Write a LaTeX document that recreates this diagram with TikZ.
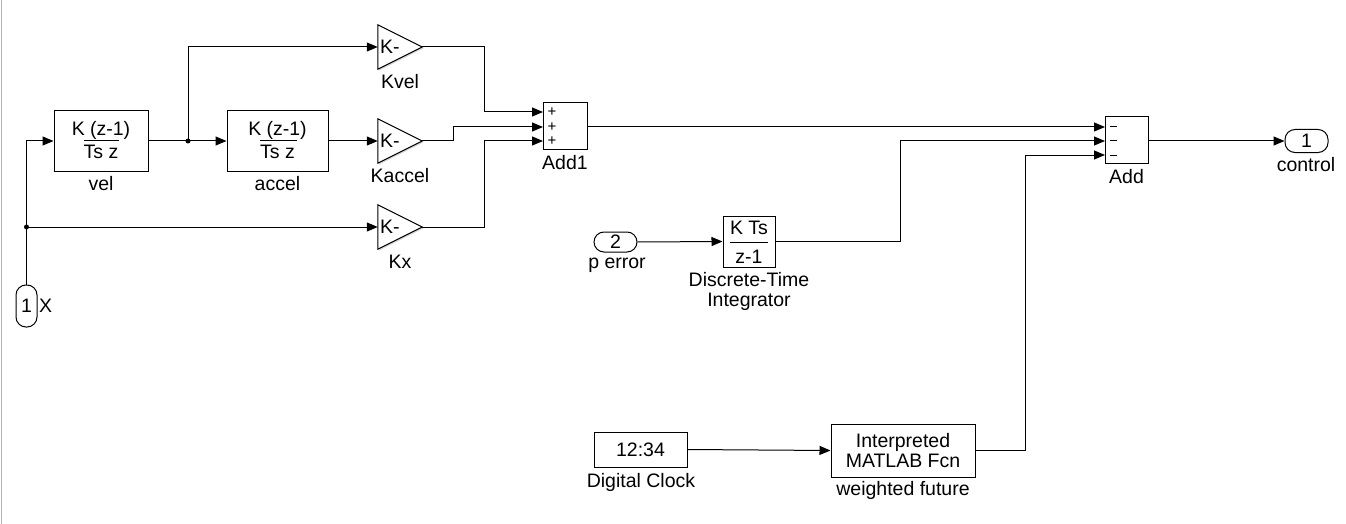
\documentclass[tikz,border=0pt]{standalone}
\usepackage{fontspec}
\setmainfont{Liberation Sans}
\usetikzlibrary{arrows.meta,shadows,calc}
\begin{document}
\begin{tikzpicture}[x=1pt,y=-1pt,
  every node/.style={font=\fontsize{19.5}{21}\selectfont, inner sep=0pt},
  blk/.style={draw, line width=1pt, fill=white, drop shadow={shadow xshift=1.3pt, shadow yshift=-1.3pt, opacity=0.35}},
  gainbox/.style={minimum width=44pt, minimum height=44pt},
  port/.style={draw, line width=1pt, fill=white, rounded corners=10pt},
  sig/.style={line width=1pt, -{Triangle[length=11pt,width=9pt]}},
  lbl/.style={},
  dot/.style={circle, fill=black, minimum size=5pt, inner sep=0pt}]
\useasboundingbox (0,0) rectangle (1346,524);
\draw[black!30, line width=1pt] (1,0) -- (1,524);

% blocks
\node[blk, minimum width=94pt, minimum height=60pt] (vel) at (101,141) {};
\node (veltop) at (101,130) {K (z-1)};
\node (velbot) at (101,152) {Ts z};
\draw[line width=1pt] (84,141) -- (119,141);
\node[lbl] (vellbl) at (101,184) {vel};

\node[blk, minimum width=101pt, minimum height=60pt] (accel) at (277.5,141) {};
\node (acctop) at (277.5,130) {K (z-1)};
\node (accbot) at (277.5,152) {Ts z};
\draw[line width=1pt] (260,141) -- (297,141);
\node[lbl] (acclbl) at (277.5,184) {accel};

% gains
\node[gainbox] (kvel) at (400,47) {};
\node[gainbox] (kacc) at (400,141) {};
\node[gainbox] (kx) at (400,227) {};
\foreach \g in {kvel,kacc,kx}{
  \draw[line width=1pt, fill=white, drop shadow={shadow xshift=1.3pt, shadow yshift=-1.3pt, opacity=0.35}] (\g.north west) -- (\g.east) -- (\g.south west) -- cycle;
  \node[anchor=west] at ([xshift=2pt]\g.west) {K-};
}
\node[lbl] (kvellbl) at (400,82) {Kvel};
\node[lbl] (kacclbl) at (400,176) {Kaccel};
\node[lbl] (kxlbl) at (400,262) {Kx};

% Add1
\node[blk, minimum width=44pt, minimum height=46pt] (add1) at (565,126) {};
\coordinate (a1i1) at (543,112);
\coordinate (a1i2) at (543,127);
\coordinate (a1i3) at (543,141);
\node[font=\fontsize{15}{15}\selectfont] at (552,112) {+};
\node[font=\fontsize{15}{15}\selectfont] at (552,127) {+};
\node[font=\fontsize{15}{15}\selectfont] at (552,141) {+};
\node[lbl] (add1lbl) at (565,163) {Add1};

% Add
\node[blk, minimum width=43pt, minimum height=46pt] (add) at (1126.5,140) {};
\coordinate (ai1) at (1105,127);
\coordinate (ai2) at (1105,141);
\coordinate (ai3) at (1105,155);
\foreach \yy in {127,141,155}{\draw[line width=1pt] (1110,\yy) -- (1117,\yy);}
\node[lbl] (addlbl) at (1126.5,177) {Add};

% ports
\node[port, minimum width=21pt, minimum height=42pt] (in1) at (26.5,306) {1};
\node[anchor=west] (xlbl) at (39,306) {X};
\node[port, minimum width=43pt, minimum height=20pt] (in2) at (615.5,242) {2};
\node[lbl] (perr) at (617,265) {p error};
\node[port, minimum width=43pt, minimum height=23pt] (out1) at (1306.5,141) {1};
\node[lbl] (ctl) at (1306,165) {control};

% integrator
\node[blk, minimum width=52pt, minimum height=51pt] (int) at (749,241.5) {};
\node (inttop) at (749,228) {K Ts};
\node (intbot) at (749,257) {z-1};
\draw[line width=1pt] (730,242) -- (768,242);
\node[lbl, align=center] (intlbl) at (749,291) {Discrete-Time\\[-1pt]Integrator};

% clock & fcn
\node[blk, minimum width=93pt, minimum height=35pt] (clk) at (640.5,449.5) {12:34};
\node[lbl] (clklbl) at (641,482) {Digital Clock};
\node[blk, minimum width=144pt, minimum height=53pt, align=center] (fcn) at (903,450.5) {Interpreted\\[-1pt]MATLAB Fcn};
\node[lbl] (fcnlbl) at (903,490) {weighted future};

% wires
\coordinate (j1) at (in1.north |- kx.west);
\coordinate (j2) at (188,141);
\draw[sig] (in1.north) |- (vel.west);
\draw[sig] (j1) -- (kx.west);
\node[dot] at (j1) {};
\draw[sig] (vel.east) -- (accel.west);
\draw[sig] (j2) |- (kvel.west);
\node[dot] at (j2) {};
\draw[sig] (accel.east) -- (kacc.west);

\draw[sig] (kvel.east) -| ([xshift=-59pt]a1i1) -- (a1i1);
\draw[sig] (kacc.east) -| ([xshift=-90pt]a1i2) -- (a1i2);
\draw[sig] (kx.east) -| ([xshift=-59pt]a1i3) -- (a1i3);

\draw[sig] (add1.east |- ai1) -- (ai1);
\draw[sig] (in2.east) -- (int.west);
\draw[sig] (int.east) -| ([xshift=-205pt]ai2) -- (ai2);
\draw[sig] (clk.east) -- (fcn.west);
\draw[sig] (fcn.east) -| ([xshift=-80pt]ai3) -- (ai3);
\draw[sig] (add.east |- out1.west) -- (out1.west);
\end{tikzpicture}
\end{document}
